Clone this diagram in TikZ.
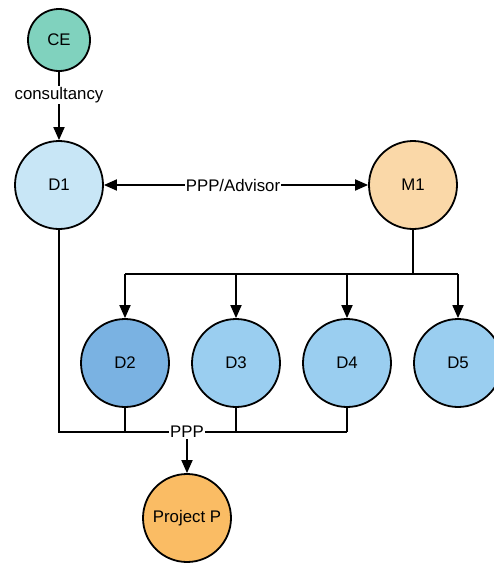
\documentclass[tikz,border=0pt]{standalone}
\usepackage{fontspec}
\setmainfont{Liberation Sans}
\usetikzlibrary{arrows.meta}
\definecolor{ceC}{RGB}{128,210,190}
\definecolor{dlight}{RGB}{200,230,246}
\definecolor{mC}{RGB}{250,216,168}
\definecolor{dmid}{RGB}{154,206,240}
\definecolor{ddark}{RGB}{122,178,226}
\definecolor{pC}{RGB}{250,188,100}
\begin{document}
\begin{tikzpicture}[x=1pt,y=-1pt,
  circ/.style={circle,draw=black,line width=1.8pt,minimum size=88pt,inner sep=0pt,font=\fontsize{16.8}{19}\selectfont},
  conn/.style={line width=1.8pt},
  arr/.style={conn,-{Triangle[length=13pt,width=11pt]}},
  lbl/.style={fill=white,inner sep=1pt,font=\fontsize{16.8}{19}\selectfont}]
\useasboundingbox (0,0) rectangle (494,565);
\node[circ,fill=ceC,minimum size=62pt] (ce) at (59,40) {CE};
\node[circ,fill=dlight] (d1) at (59,185) {D1};
\node[circ,fill=mC] (m1) at (413,185) {M1};
\node[circ,fill=ddark] (d2) at (125,363) {D2};
\node[circ,fill=dmid] (d3) at (236,363) {D3};
\node[circ,fill=dmid] (d4) at (347,363) {D4};
\node[circ,fill=dmid] (d5) at (458,363) {D5};
\node[circ,fill=pC] (p) at (187,518) {Project P};
% CE -> D1
\draw[arr] (ce) -- (d1);
\node[lbl] (lc) at (59,95) {consultancy};
% D1 <-> M1
\draw[conn,{Triangle[length=13pt,width=11pt]}-{Triangle[length=13pt,width=11pt]}] (d1) -- (m1);
\node[lbl] (la) at (233,185) {PPP/Advisor};
% M1 -> D2..D5
\coordinate (mj) at (413,274);
\coordinate (j2) at (125,274);
\coordinate (j5) at (458,274);
\draw[conn] (m1) -- (mj);
\draw[conn] (j2) -- (j5);
\draw[arr] (j2) -- (d2);
\draw[arr] (236,274) -- (d3);
\draw[arr] (347,274) -- (d4);
\draw[arr] (j5) -- (d5);
% bottom PPP
\coordinate (b1) at (59,432);
\coordinate (b4) at (347,432);
\coordinate (bp) at (187,432);
\draw[conn] (d1) -- (b1) -- (b4);
\draw[conn] (d2) -- (125,432);
\draw[conn] (d3) -- (236,432);
\draw[conn] (d4) -- (b4);
\draw[arr] (bp) -- (p);
\node[lbl] (lp) at (187,432) {PPP};
\end{tikzpicture}
\end{document}
